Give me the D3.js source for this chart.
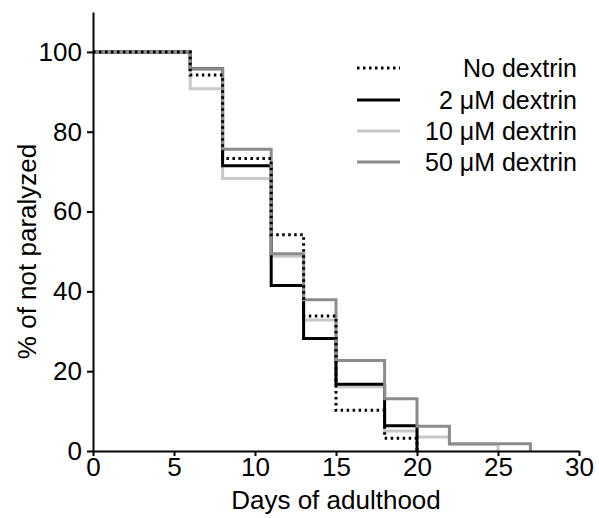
<!DOCTYPE html>
<html>
<head>
<meta charset="utf-8">
<script src="https://cdn.jsdelivr.net/npm/d3@7"></script>
<style>
  html, body { margin: 0; padding: 0; background: #fff; }
  svg { display: block; }
  text { font-family: "Liberation Sans", Arial, sans-serif; fill: #000; }
</style>
</head>
<body>
<div id="chart"></div>
<script>
// ---- data ----
const seriesNames = ["No dextrin", "2 \u03bcM dextrin", "10 \u03bcM dextrin", "50 \u03bcM dextrin"];
const daysNo   = [0, 6, 8, 11, 13, 15, 18, 20];
const valsNo   = [100, 94.2, 73.3, 54.2, 33.8, 10.2, 3.2, 0];
const days2    = [0, 6, 8, 11, 13, 15, 18, 20];
const vals2    = [100, 95.8, 71.5, 41.5, 28.2, 16.7, 6.3, 0];
const days10   = [0, 6, 8, 11, 13, 15, 18, 20, 22, 25];
const vals10   = [100, 90.8, 68.3, 48.8, 32.8, 16.1, 5.0, 3.5, 1.6, 0];
const days50   = [0, 6, 8, 11, 13, 15, 18, 20, 22, 27];
const vals50   = [100, 95.8, 75.6, 49.4, 37.9, 22.7, 13.1, 6.2, 1.8, 0];
const xTicks = [0, 5, 10, 15, 20, 25, 30];
const yTicks = [0, 20, 40, 60, 80, 100];

// ---- layout ----
const W = 599, H = 518;
const margin = { left: 93, right: 20, top: 12, bottom: 67 };
const FS = 26;
const svg = d3.select("#chart").append("svg").attr("width", W).attr("height", H);

const x = d3.scaleLinear().domain([0, 30]).range([margin.left, W - margin.right]);
const y = d3.scaleLinear().domain([0, 110]).range([H - margin.bottom, margin.top]);

const styles = [
  { color: "#000000", dash: "2.5,3.5" },
  { color: "#000000", dash: null },
  { color: "#c8c8c8", dash: null },
  { color: "#8c8c8c", dash: null }
];
const seriesData = [
  d3.zip(daysNo, valsNo),
  d3.zip(days2, vals2),
  d3.zip(days10, vals10),
  d3.zip(days50, vals50)
];

const line = d3.line().x(d => x(d[0])).y(d => y(d[1])).curve(d3.curveStepAfter);

// draw order: 10, 2, 50, none
[2, 1, 3, 0].forEach(i => {
  const p = svg.append("path")
    .datum(seriesData[i])
    .attr("d", line)
    .attr("fill", "none")
    .attr("stroke", styles[i].color)
    .attr("stroke-width", 3);
  if (styles[i].dash) p.attr("stroke-dasharray", styles[i].dash);
});

// axes
const xAxis = svg.append("g")
  .attr("transform", `translate(0,${y(0)})`)
  .call(d3.axisBottom(x).tickValues(xTicks).tickSize(5).tickPadding(2).tickSizeOuter(0));
const yAxis = svg.append("g")
  .attr("transform", `translate(${x(0)},0)`)
  .call(d3.axisLeft(y).tickValues(yTicks).tickSize(6).tickPadding(5).tickSizeOuter(0));
[xAxis, yAxis].forEach(g => {
  g.select(".domain").attr("stroke", "#000").attr("stroke-width", 2);
  g.selectAll(".tick line").attr("stroke", "#000").attr("stroke-width", 2);
  g.selectAll(".tick text").attr("font-size", FS).attr("font-family", "Liberation Sans, Arial, sans-serif").attr("fill", "#000");
});

// axis titles
svg.append("text")
  .attr("x", (x(0) + x(30)) / 2).attr("y", 509)
  .attr("text-anchor", "middle").attr("font-size", FS)
  .text("Days of adulthood");
svg.append("text")
  .attr("transform", `translate(36,${y(50)}) rotate(-90)`)
  .attr("text-anchor", "middle").attr("font-size", FS)
  .text("% of not paralyzed");

// legend
const legendY = [68, 100, 131, 162];
seriesNames.forEach((name, i) => {
  const l = svg.append("line")
    .attr("x1", 357).attr("x2", 400)
    .attr("y1", legendY[i]).attr("y2", legendY[i])
    .attr("stroke", styles[i].color).attr("stroke-width", 3);
  if (styles[i].dash) l.attr("stroke-dasharray", styles[i].dash);
  svg.append("text")
    .attr("x", 577).attr("y", legendY[i])
    .attr("dy", "0.35em")
    .attr("text-anchor", "end").attr("font-size", 25)
    .text(name);
});
</script>
</body>
</html>
